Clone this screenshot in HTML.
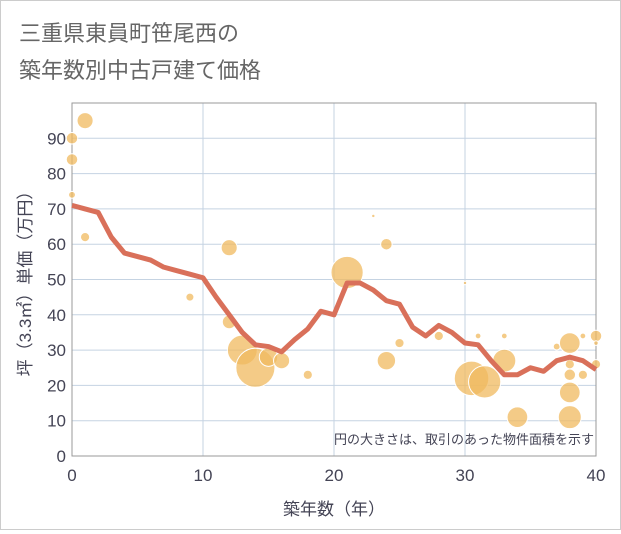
<!DOCTYPE html>
<html><head><meta charset="utf-8"><style>
body{margin:0;background:#fff}
#c{position:relative;width:621px;height:530px;background:#fff;border:1px solid #ccc;box-sizing:border-box;font-family:"Liberation Sans","Noto Sans CJK JP",sans-serif}
</style></head><body>
<div id="c">
<svg id="s" width="619" height="528"></svg>
</div>
<script>
const years=[0,1,2,3,4,5,6,7,8,9,10,11,12,13,14,15,16,17,18,19,20,21,22,23,24,25,26,27,28,29,30,31,32,33,34,35,36,37,38,39,40];
const avgPrice=[71,70,69,62,57.5,56.5,55.5,53.5,52.5,51.5,50.5,45,40,35,31.5,31,29.5,33,36,41,40,49,49,47,44,43,36.5,34,37,35,32,31.5,27,23,23,25,24,27,28,27,24.5];
const bubX=[0,0,0,1,1,9,12,12,13,14,15,16,18,21,23,24,24,25,28,30,31,30.5,31.5,33,33,34,37,38,38,38,38,38,39,39,40,40,40];
const bubY=[90,84,74,95,62,45,59,38,30,25,28,27,23,52,68,60,27,32,34,49,34,22,21,27,34,11,31,32,26,23,18,11,34,23,34,26,32];
const bubR=[5,5,3,7,4,3.5,7,6,13,17,8,7,4,14,1.5,5,8,4,4,1.5,2.5,15,14,10,2.5,9,3,9,4,5,9,10,2.5,4,5,4,2];
const xTicks=[0,10,20,30,40];
const yTicks=[0,10,20,30,40,50,60,70,80,90];
const ns="http://www.w3.org/2000/svg",s=document.getElementById('s');
const L=71,R=595,T=102,B=455;
const X=v=>L+(v/40)*(R-L), Y=v=>B-(v/100)*(B-T);
function el(t,a,p){const e=document.createElementNS(ns,t);for(const k in a)e.setAttribute(k,a[k]);(p||s).appendChild(e);return e;}
function txt(x,y,str,a){const e=el('text',Object.assign({x:x,y:y},a));e.textContent=str;return e;}
const t1=txt(18,40,'三重県東員町笹尾西の',{'font-size':22,fill:'#666'});

const t2=txt(18,77,'築年数別中古戸建て価格',{'font-size':22,fill:'#666'});

const g=el('g',{});
yTicks.forEach(v=>{el('line',{x1:L,x2:R,y1:Y(v),y2:Y(v),stroke:'#c5d3e2','stroke-width':1},g);
const t=txt(L-6,Y(v)+6,String(v),{'font-size':17,fill:'#445','text-anchor':'end'});
});
xTicks.forEach(v=>{el('line',{x1:X(v),x2:X(v),y1:T,y2:B,stroke:'#c5d3e2','stroke-width':1},g);
const t=txt(X(v),B+25,String(v),{'font-size':17,fill:'#445','text-anchor':'middle'});
});
const fr=el('rect',{x:L,y:T,width:R-L,height:B-T,fill:'none',stroke:'#999'});

const bg=el('g',{});
bubX.forEach((x,i)=>{const c=el('circle',{cx:X(x),cy:Y(bubY[i]),r:bubR[i]*1.15,fill:'rgba(240,185,95,0.75)',stroke:'#fff','stroke-width':1},bg);
});
const p=el('polyline',{points:years.map((y,i)=>X(y)+','+Y(avgPrice[i])).join(' '),fill:'none',stroke:'#d9705a','stroke-width':5,'stroke-linejoin':'round'});

const n=txt(R-2,B-12,'円の大きさは、取引のあった物件面積を示す',{'font-size':13,fill:'#445','text-anchor':'end'});

const xt=txt((L+R)/2,B+59,'築年数（年）',{'font-size':17,fill:'#445','text-anchor':'middle'});

const yt=txt(0,0,'坪（3.3㎡）単価（万円）',{'font-size':17,fill:'#445','text-anchor':'middle',transform:`translate(30,${(T+B)/2}) rotate(-90)`});

</script>
</body></html>
